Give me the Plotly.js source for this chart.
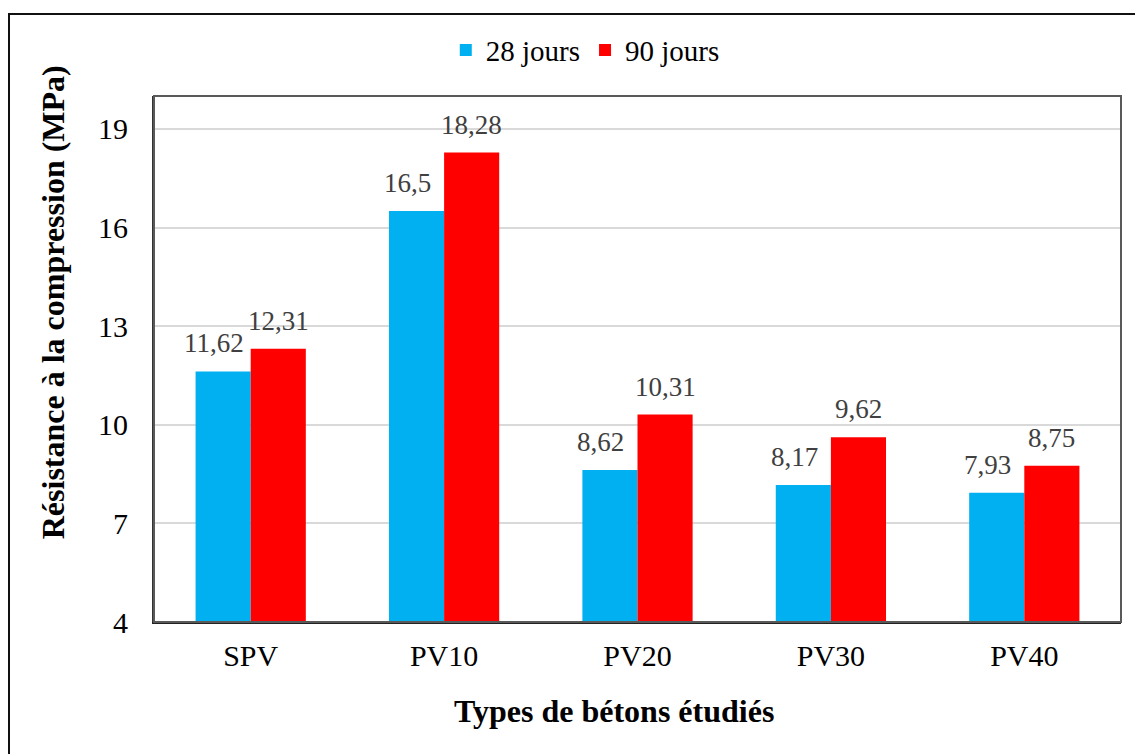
<!DOCTYPE html>
<html>
<head>
<meta charset="utf-8">
<script src="https://cdn.plot.ly/plotly-3.0.1.min.js"></script>
<style>
  body { margin: 0; overflow: hidden; background: #fff; }
  #frame { position: absolute; left: 8px; top: 13px; width: 1400px; height: 1000px;
           border: 2px solid #111; pointer-events: none; z-index: 5; }
  #chart { position: absolute; left: 0; top: 0; width: 1135px; height: 754px; }
</style>
</head>
<body>
<div id="frame"></div>
<div id="chart"></div>
<script>
// Résistance à la compression des bétons
var betons = ["SPV", "PV10", "PV20", "PV30", "PV40"];
var jours28 = [11.62, 16.5, 8.62, 8.17, 7.93];
var jours90 = [12.31, 18.28, 10.31, 9.62, 8.75];
var yTicks = [4, 7, 10, 13, 16, 19];

var serif = "Liberation Serif";
var bargap = 0.43;
var label = v => String(v).replace(".", ",");

function barTrace(vals, name, color) {
  return {
    x: betons, y: vals, name: name, type: "bar",
    marker: {color: color},
    hoverinfo: "none"
  };
}

var data = [
  barTrace(jours28, "28 jours", "#00B0F0"),
  barTrace(jours90, "90 jours", "#FF0000")
];

// value labels above each bar (bar centre = category index -/+ quarter of group width)
var half = (1 - bargap) / 4;
var valueLabels = [];
[jours28, jours90].forEach(function(vals, k) {
  vals.forEach(function(v, j) {
    valueLabels.push({
      x: j + (k === 0 ? -half : half), y: v,
      xref: "x", yref: "y",
      text: label(v),
      showarrow: false,
      xanchor: "center", yanchor: "bottom",
      yshift: 11, xshift: k === 0 ? -9 : 0,
      font: {family: serif, size: 27, color: "#404040"}
    });
  });
});

var layout = {
  width: 1135,
  height: 754,
  margin: {l: 154, r: 14, t: 96, b: 132},
  paper_bgcolor: "#fff",
  plot_bgcolor: "#fff",
  font: {family: serif, size: 29, color: "#000"},
  barmode: "group",
  bargap: bargap,
  bargroupgap: 0,
  showlegend: true,
  legend: {
    orientation: "h",
    x: 0.446, xanchor: "center",
    y: 1.087, yanchor: "middle",
    font: {family: serif, size: 29, color: "#000"},
    itemwidth: 30
  },
  xaxis: {
    type: "category",
    showline: true, linecolor: "#222", linewidth: 2, mirror: false,
    ticks: "", ticklabelstandoff: 6,
    tickfont: {family: serif, size: 30, color: "#000"},
    showgrid: false
  },
  yaxis: {
    range: [4, 20],
    tickvals: yTicks,
    ticktext: yTicks.map(String),
    showline: true, linecolor: "#333", linewidth: 2, mirror: false,
    showgrid: true, gridcolor: "#d9d9d9", gridwidth: 2,
    zeroline: false,
    ticks: "", ticklabelstandoff: 18,
    tickfont: {family: serif, size: 30, color: "#000"}
  },
  shapes: [{
    type: "rect", xref: "paper", yref: "paper",
    x0: 0, x1: 1, y0: 0, y1: 1,
    line: {color: "#595959", width: 2}
  }],
  annotations: valueLabels.concat([
    {
      text: "<b>Types de bétons étudiés</b>",
      xref: "paper", yref: "paper",
      x: 0.4757, y: -0.169, xanchor: "center", yanchor: "middle",
      showarrow: false,
      font: {family: serif, size: 32, color: "#000"}
    },
    {
      text: "<b>Résistance à la compression (MPa)</b>",
      xref: "paper", yref: "paper",
      x: -0.1044, y: 0.608, xanchor: "center", yanchor: "middle",
      textangle: -90,
      showarrow: false,
      font: {family: serif, size: 32, color: "#000"}
    }
  ])
};

Plotly.newPlot("chart", data, layout, {displayModeBar: false, staticPlot: true});
</script>
</body>
</html>
